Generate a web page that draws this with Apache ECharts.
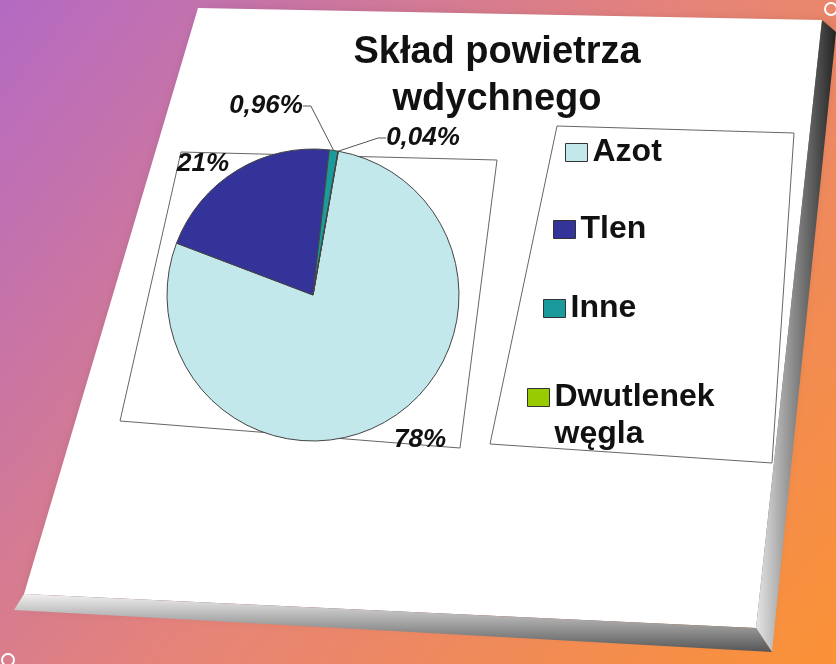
<!DOCTYPE html>
<html>
<head>
<meta charset="utf-8">
<title>Skład powietrza wdychnego</title>
<script src="https://cdn.jsdelivr.net/npm/echarts@6/dist/echarts.min.js"></script>
<style>
  html, body { margin: 0; padding: 0; }
  #main { width: 836px; height: 664px; }
</style>
</head>
<body>
<div id="main"></div>
<script>
// dane wykresu
var categories = ['Azot', 'Tlen', 'Inne', 'Dwutlenek węgla'];
var values = [78, 21, 0.96, 0.04];
var colors = ['#c2e8ec', '#333399', '#1a9a9a', '#99cc00'];

var font = '"Liberation Sans", Arial, sans-serif';

// polozenie etykiet i legendy na "slajdzie"
var labelPos = [[420, 440], [203, 164], [266, 106], [423, 138]];
var legendPos = [[560, 129], [548, 206], [538, 285], [522, 337]];

var chart = echarts.init(document.getElementById('main'));

var pieData = categories.map(function (name, i) {
  return {
    name: name,
    value: values[i],
    itemStyle: { color: colors[i] },
    labelLine: { show: i >= 2 }
  };
});

// osobna legenda dla kazdej pozycji (slajd jest przekrzywiony)
var legends = categories.map(function (name, i) {
  return {
    data: [name],
    left: legendPos[i][0],
    top: legendPos[i][1],
    orient: 'vertical',
    icon: 'rect',
    itemWidth: 22,
    itemHeight: 18,
    selectedMode: false,
    itemStyle: { borderColor: '#333', borderWidth: 1 },
    // pusty wiersz na gorze, zeby kwadracik stal przy pierwszej linii
    formatter: function (n) { return n.indexOf(' ') > 0 ? ' \n' + n.replace(' ', '\n') : n; },
    textStyle: {
      fontFamily: font,
      fontWeight: 'bold',
      fontSize: 32,
      color: '#111',
      lineHeight: 37
    }
  };
});

var bg = new echarts.graphic.LinearGradient(0, 0, 1, 1, [
  { offset: 0, color: '#b46ac4' },
  { offset: 0.5, color: '#e5837a' },
  { offset: 1, color: '#fb9236' }
]);

var option = {
  animation: false,
  title: {
    text: 'Skład powietrza\nwdychnego',
    left: 492,
    top: 24,
    textAlign: 'center',
    textStyle: {
      fontFamily: font,
      fontWeight: 'bold',
      fontSize: 38,
      lineHeight: 47,
      color: '#111'
    }
  },
  legend: legends,
  graphic: [
    { type: 'rect', z: -10, shape: { x: 0, y: 0, width: 836, height: 664 }, style: { fill: bg } },
    // cien i biala plansza
    {
      type: 'polygon', z: -9,
      shape: { points: [[198, 8], [822, 20], [756, 628], [24, 594]] },
      style: { fill: '#fff', shadowBlur: 14, shadowColor: 'rgba(0,0,0,0.45)', shadowOffsetX: 6, shadowOffsetY: 8 }
    },
    {
      type: 'polygon', z: -8,
      shape: { points: [[822, 20], [836, 32], [772, 652], [756, 628]] },
      style: { fill: new echarts.graphic.LinearGradient(0, 0, 1, 0, [
        { offset: 0, color: '#e6e6e6' }, { offset: 1, color: '#222' }]) }
    },
    {
      type: 'polygon', z: -8,
      shape: { points: [[24, 594], [756, 628], [772, 652], [14, 610]] },
      style: { fill: new echarts.graphic.LinearGradient(0, 0, 0, 1, [
        { offset: 0, color: '#f0f0f0' }, { offset: 1, color: '#555' }]) }
    },
    // ramka obszaru wykresu
    {
      type: 'polygon', z: -5,
      shape: { points: [[181, 152], [497, 160], [460, 448], [120, 421]] },
      style: { fill: null, stroke: '#666', lineWidth: 1 }
    },
    // ramka legendy
    {
      type: 'polygon', z: -5,
      shape: { points: [[557, 126], [794, 133], [772, 463], [490, 444]] },
      style: { fill: null, stroke: '#666', lineWidth: 1 }
    },
    { type: 'circle', z: -7, shape: { cx: 831, cy: 9, r: 6 }, style: { fill: null, stroke: '#fff', lineWidth: 2 } },
    { type: 'circle', z: -7, shape: { cx: 8, cy: 660, r: 6 }, style: { fill: null, stroke: '#fff', lineWidth: 2 } }
  ],
  series: [{
    type: 'pie',
    center: [313, 295],
    radius: 146,
    startAngle: 80,
    clockwise: true,
    data: pieData,
    itemStyle: { borderColor: '#444', borderWidth: 1 },
    label: {
      show: true,
      position: 'outside',
      formatter: function (p) { return String(p.value).replace('.', ',') + '%'; },
      fontFamily: font,
      fontStyle: 'italic',
      fontWeight: 'bold',
      fontSize: 26,
      color: '#111'
    },
    labelLine: { length: 8, length2: 8, lineStyle: { color: '#555', width: 1 } },
    labelLayout: function (p) {
      var pos = labelPos[p.dataIndex];
      return { x: pos[0], y: pos[1], align: 'center', verticalAlign: 'middle' };
    },
    emphasis: { disabled: true }
  }]
};

chart.setOption(option);
</script>
</body>
</html>
